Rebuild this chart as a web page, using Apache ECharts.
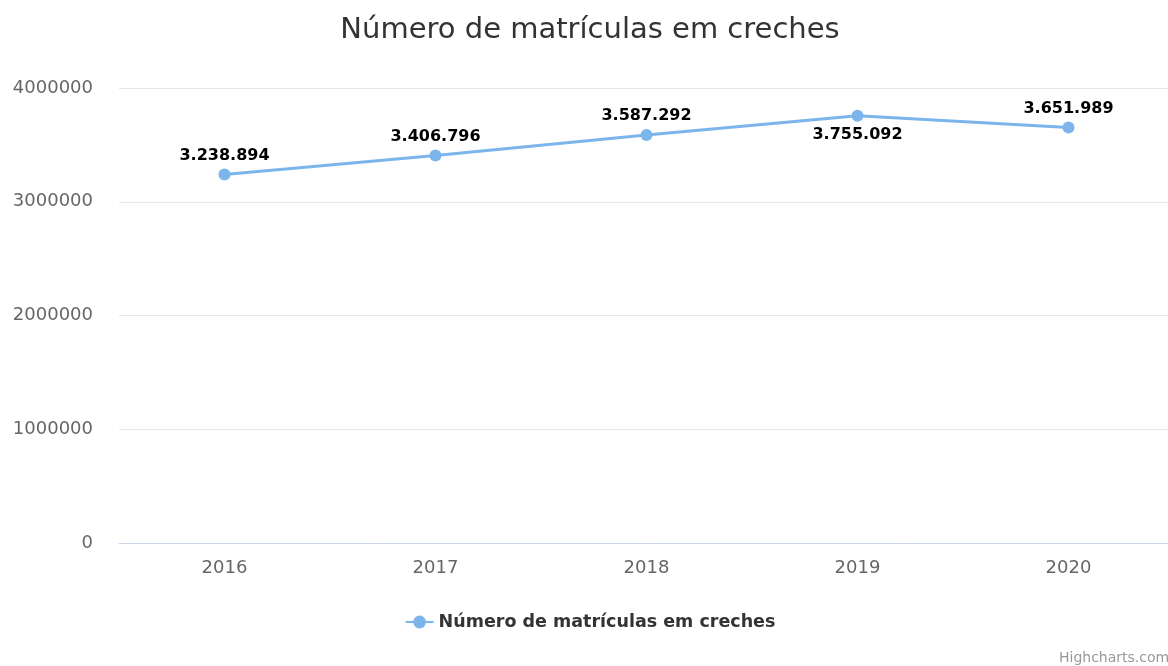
<!DOCTYPE html>
<html>
<head>
<meta charset="utf-8">
<script src="https://cdn.jsdelivr.net/npm/echarts@6/dist/echarts.min.js"></script>
<style>
  html, body { margin: 0; padding: 0; background: #fff; overflow: hidden; }
  #chart { width: 1180px; height: 666px; }
</style>
</head>
<body>
<div id="chart"></div>
<script>
const years = ['2016', '2017', '2018', '2019', '2020'];
const matriculas = [3238894, 3406796, 3587292, 3755092, 3651989];
const labelBelow = ['2019'];

const fmt = v => String(v).replace(/\B(?=(\d{3})+(?!\d))/g, '.');
const font = '"DejaVu Sans", Verdana, sans-serif';

const chart = echarts.init(document.getElementById('chart'));
chart.setOption({
  animation: false,
  title: {
    text: 'Número de matrículas em creches',
    left: 'center',
    top: 11,
    textStyle: { fontFamily: font, fontSize: 29, fontWeight: 'normal', color: '#333333' }
  },
  grid: { left: 119, top: 88, right: 6, bottom: 123, containLabel: false },
  legend: {
    bottom: 30,
    left: 'center',
    itemWidth: 28,
    itemHeight: 16,
    textStyle: { fontFamily: font, fontSize: 17.5, fontWeight: 'bold', color: '#333333' }
  },
  xAxis: {
    type: 'category',
    data: years,
    axisLine: { lineStyle: { color: '#ccd6eb', width: 1 } },
    axisTick: { show: false },
    axisLabel: { fontFamily: font, fontSize: 18, color: '#666666', margin: 16 }
  },
  yAxis: {
    type: 'value',
    min: 0,
    max: 4000000,
    interval: 1000000,
    axisLine: { show: false },
    axisTick: { show: false },
    splitLine: { lineStyle: { color: '#e6e6e6', width: 1 } },
    axisLabel: { fontFamily: font, fontSize: 18, color: '#666666', margin: 26, formatter: v => String(v) }
  },
  series: [{
    name: 'Número de matrículas em creches',
    type: 'line',
    data: matriculas.map((v, i) => ({
      value: v,
      label: { position: labelBelow.includes(years[i]) ? 'bottom' : 'top' }
    })),
    symbol: 'circle',
    symbolSize: 12,
    lineStyle: { color: '#7cb5ec', width: 3 },
    itemStyle: { color: '#7cb5ec' },
    label: {
      show: true,
      distance: 5,
      formatter: p => fmt(p.value),
      fontFamily: font,
      fontSize: 16,
      fontWeight: 'bold',
      color: '#000000',
      textBorderColor: '#ffffff',
      textBorderWidth: 2
    }
  }],
  graphic: [{
    type: 'text',
    left: 1059,
    top: 651,
    style: { text: 'Highcharts.com', fontFamily: font, fontSize: 14, fill: '#999999' }
  }]
});
</script>
</body>
</html>
